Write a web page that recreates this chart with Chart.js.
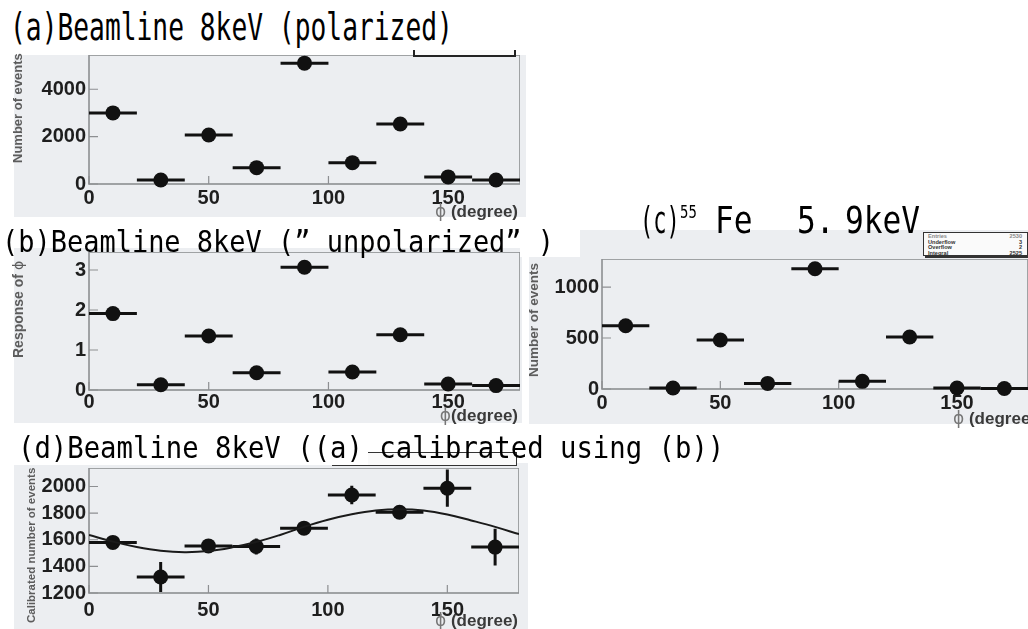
<!DOCTYPE html>
<html lang="ja">
<head>
<meta charset="utf-8">
<title>Azimuthal angle distributions</title>
<script src="https://cdn.jsdelivr.net/npm/chart.js@4.4.1/dist/chart.umd.min.js"></script>
<style>
  html, body { margin:0; padding:0; background:#fff; }
  body { position:relative; width:1028px; height:629px; overflow:hidden; }
  .panel { position:absolute; background:#eceef1; }
  .plot { position:absolute; z-index:1; }
  .axtitle { position:absolute; z-index:2; font-family:"Liberation Sans", Arial, "DejaVu Sans", sans-serif; font-weight:bold; white-space:nowrap; line-height:1; }
  .ylab { transform-origin:0 0; transform:rotate(-90deg); color:#5c5c5c; }
  .xlab { color:#3a3a3a; text-align:right; }
  .xlab .phi { color:#777; font-weight:normal; font-family:"DejaVu Sans", sans-serif; }
  .ylab .phi { font-weight:normal; font-family:"DejaVu Sans", sans-serif; }
  .mask { position:absolute; z-index:3; background:#fff; }
  .title { position:absolute; z-index:4; font-family:"DejaVu Sans Mono", monospace; color:#000; white-space:pre; line-height:1; transform-origin:0 0; }
  .stats { position:absolute; z-index:3; background:#fafafa; border:1px solid #333; box-shadow:2px 2px 0 #333; box-sizing:border-box; }
  .stats .row { display:flex; justify-content:space-between; font:bold 5.6px "Liberation Sans", Arial, sans-serif; line-height:5.6px; color:#333; padding:0 5px 0 4px; }
  .statline { position:absolute; z-index:3; border:2px solid #222; border-top:none; background:#fafafa; box-sizing:border-box; }
</style>
</head>
<body>

<!-- panel backgrounds -->
<div class="panel" style="left:14px;top:55px;width:512px;height:162px"></div>
<div class="panel" style="left:14px;top:246px;width:508px;height:177px"></div>
<div class="panel" style="left:529px;top:230px;width:499px;height:194px"></div>
<div class="panel" style="left:14px;top:463px;width:514px;height:166px"></div>

<!-- plots -->
<canvas id="chartA" class="plot" width="506" height="163" style="left:14px;top:55px"></canvas>
<canvas id="chartB" class="plot" width="506" height="171" style="left:14px;top:252px"></canvas>
<canvas id="chartC" class="plot" width="498" height="165" style="left:530px;top:259px"></canvas>
<canvas id="chartD" class="plot" width="505" height="161" style="left:14px;top:468px"></canvas>

<!-- axis titles -->
<div class="axtitle ylab" style="font-size:13px;left:11px;top:163px">Number of events</div>
<div class="axtitle xlab" style="font-size:17px;right:510px;top:203px"><span class="phi">ϕ</span> (degree)</div>

<div class="axtitle ylab" style="font-size:14px;left:11px;top:358px">Response of <span class="phi">ϕ</span></div>
<div class="axtitle xlab" style="font-size:17px;right:510px;top:407px"><span class="phi">ϕ</span>(degree)</div>

<div class="axtitle ylab" style="font-size:13.5px;left:527px;top:377px">Number of events</div>
<div class="axtitle xlab" style="font-size:17px;right:-8px;top:410px"><span class="phi">ϕ</span> (degree)</div>

<div class="axtitle ylab" style="font-size:11.5px;left:26px;top:623px">Calibrated number of events</div>
<div class="axtitle xlab" style="font-size:17px;right:510px;top:612px"><span class="phi">ϕ</span> (degree)</div>

<!-- statistics boxes -->
<div class="statline" style="left:413px;top:50px;width:103px;height:7px"></div>
<div class="stats" style="left:923px;top:232px;width:105px;height:24px;padding-top:1px">
  <div class="row" style="color:#888"><span>Entries</span><span>2530</span></div>
  <div class="row"><span>Underflow</span><span>3</span></div>
  <div class="row"><span>Overflow</span><span>2</span></div>
  <div class="row"><span>Integral</span><span>2525</span></div>
</div>
<div class="stats" style="left:332px;top:452px;width:185px;height:14px;box-shadow:none;z-index:2"></div>

<!-- title bands -->
<div class="mask" style="left:0;top:0;width:530px;height:50px"></div>
<div class="mask" style="left:0;top:224px;width:522px;height:24px"></div>
<div class="mask" style="left:520px;top:228px;width:60px;height:29px"></div>
<div class="mask" style="left:10px;top:428px;width:358px;height:37px"></div>

<div class="title" style="left:10px;top:9px;font-size:37px;transform:scaleX(0.71)">(a)Beamline 8keV (polarized)</div>
<div class="title" style="left:2px;top:226px;font-size:31px;transform:scaleX(0.87)">(b)Beamline 8keV (” unpolarized” )</div>
<div class="title" style="left:640px;top:201px;font-size:38px;transform:scaleX(0.58)">(c)</div>
<div class="title" style="left:680px;top:204px;font-size:17px;transform:scaleX(0.82)">55</div>
<div class="title" style="left:715px;top:201px;font-size:38px;transform:scaleX(0.82)">Fe</div>
<div class="title" style="left:797px;top:201px;font-size:38px;transform:scaleX(0.82)">5.</div>
<div class="title" style="left:845px;top:201px;font-size:38px;transform:scaleX(0.82)">9keV</div>
<div class="title" style="left:18px;top:432px;font-size:31px;transform:scaleX(0.88)">(d)Beamline 8keV ((a) calibrated using (b))</div>

<script>
// Azimuthal bins (degrees)
const phiBinCenter = [10, 30, 50, 70, 90, 110, 130, 150, 170];
const phiBinLow    = [0, 20, 40, 60, 80, 100, 120, 140, 160];
const phiBinHigh   = [20, 40, 60, 80, 100, 120, 140, 160, 180];
const phiTicks     = [0, 50, 100, 150];

// (a) beamline 8 keV, polarized
const polarizedEvents = [3000, 170, 2070, 690, 5100, 900, 2530, 300, 170];
const polarizedTicks  = [0, 2000, 4000];

// (b) beamline 8 keV, "unpolarized" response
const unpolarizedResponse = [1.91, 0.13, 1.35, 0.43, 3.07, 0.45, 1.38, 0.15, 0.11];
const responseTicks       = [0, 1, 2, 3];

// (c) 55Fe 5.9 keV
const fe55Events = [620, 10, 480, 55, 1180, 75, 510, 10, 5];
const fe55Ticks  = [0, 500, 1000];

// (d) calibrated distribution with its fitted modulation curve
const calibratedEvents = [1580, 1320, 1554, 1549, 1687, 1936, 1807, 1987, 1545];
const calibratedErrors = [35, 112, 45, 60, 40, 70, 35, 140, 138];
const calibratedTicks  = [1200, 1400, 1600, 1800, 2000];
const fitPhi    = [0, 10, 20, 30, 40, 50, 60, 70, 80, 90, 100, 110, 120, 130, 140, 150, 160, 170, 180];
const fitEvents = [1636, 1586, 1546, 1518, 1507, 1515, 1543, 1583, 1636, 1697, 1750, 1791, 1819, 1829, 1820, 1790, 1745, 1697, 1642];

const tickFont  = { family: '"Liberation Sans", Arial, sans-serif', size: 20, weight: 'bold' };
const tickColor = '#1e1e1e';
const markColor = '#111111';

// ROOT-style frame with ticks pointing into the plot
const rootFrame = {
  id: 'rootFrame',
  beforeDatasetsDraw(chart) {
    const { ctx, chartArea: a, scales: { x, y } } = chart;
    ctx.save();
    ctx.strokeStyle = '#8d8f92';
    ctx.lineWidth = 1.6;
    ctx.strokeRect(a.left, a.top, a.right - a.left, a.bottom - a.top);
    ctx.lineWidth = 1.2;
    ctx.beginPath();
    x.ticks.forEach(t => {
      const px = x.getPixelForValue(t.value);
      ctx.moveTo(px, a.bottom); ctx.lineTo(px, a.bottom - 8);
    });
    y.ticks.forEach(t => {
      const py = y.getPixelForValue(t.value);
      ctx.moveTo(a.left, py); ctx.lineTo(a.left + 9, py);
    });
    ctx.stroke();
    ctx.restore();
  }
};

// Bin-width and statistical error bars
const errorBars = {
  id: 'errorBars',
  beforeDatasetsDraw(chart) {
    const { ctx, scales: { x, y } } = chart;
    chart.data.datasets.forEach(ds => {
      if (!ds.xLow) return;
      ctx.save();
      ctx.strokeStyle = markColor;
      ctx.lineWidth = 3;
      ctx.lineCap = 'butt';
      ds.data.forEach((p, j) => {
        const py = y.getPixelForValue(p.y);
        ctx.beginPath();
        ctx.moveTo(x.getPixelForValue(ds.xLow[j]), py);
        ctx.lineTo(x.getPixelForValue(ds.xHigh[j]), py);
        if (ds.yErr) {
          const px = x.getPixelForValue(p.x);
          ctx.moveTo(px, y.getPixelForValue(p.y - ds.yErr[j]));
          ctx.lineTo(px, y.getPixelForValue(p.y + ds.yErr[j]));
        }
        ctx.stroke();
      });
      ctx.restore();
    });
  }
};

function histDataset(values, yErr) {
  return {
    data: phiBinCenter.map((phi, i) => ({ x: phi, y: values[i] })),
    xLow: phiBinLow,
    xHigh: phiBinHigh,
    yErr: yErr || null,
    pointRadius: 7.5,
    pointHoverRadius: 7.5,
    pointBackgroundColor: markColor,
    pointBorderWidth: 0,
    showLine: false,
    clip: false,
    order: 1
  };
}

function makePanel(id, o) {
  return new Chart(document.getElementById(id), {
    type: 'scatter',
    data: { datasets: o.datasets },
    options: {
      responsive: false,
      animation: false,
      devicePixelRatio: 1,
      layout: { padding: 0, autoPadding: false },
      plugins: { legend: { display: false }, tooltip: { enabled: false } },
      scales: {
        x: {
          type: 'linear', min: 0, max: 180,
          grid: { display: false, drawTicks: false }, border: { display: false },
          afterBuildTicks: s => { s.ticks = phiTicks.map(v => ({ value: v })); },
          ticks: { padding: o.xPad, font: tickFont, color: tickColor, maxRotation: 0, autoSkip: false, callback: v => String(v) },
          afterFit: s => { s.height = o.xHeight; s.paddingLeft = 0; s.paddingRight = 0; }
        },
        y: {
          type: 'linear', min: o.yMin, max: o.yMax,
          grid: { display: false, drawTicks: false }, border: { display: false },
          afterBuildTicks: s => { s.ticks = o.yTicks.map(v => ({ value: v })); },
          ticks: { padding: 3, font: tickFont, color: tickColor, autoSkip: false, callback: v => String(v) },
          afterFit: s => { s.width = o.yWidth; s.paddingTop = 0; s.paddingBottom = 0; }
        }
      }
    },
    plugins: [rootFrame, errorBars]
  });
}

makePanel('chartA', {
  datasets: [histDataset(polarizedEvents)],
  yMin: 0, yMax: 5445, yTicks: polarizedTicks, yWidth: 75, xHeight: 34, xPad: 2
});

makePanel('chartB', {
  datasets: [histDataset(unpolarizedResponse)],
  yMin: 0, yMax: 3.45, yTicks: responseTicks, yWidth: 75, xHeight: 33, xPad: 0
});

makePanel('chartC', {
  datasets: [histDataset(fe55Events)],
  yMin: 0, yMax: 1275, yTicks: fe55Ticks, yWidth: 72, xHeight: 35, xPad: 2
});

makePanel('chartD', {
  datasets: [
    histDataset(calibratedEvents, calibratedErrors),
    {
      data: fitPhi.map((phi, i) => ({ x: phi, y: fitEvents[i] })),
      showLine: true,
      tension: 0.4,
      borderColor: '#1a1a1a',
      borderWidth: 2,
      pointRadius: 0,
      pointHoverRadius: 0,
      fill: false,
      order: 0
    }
  ],
  yMin: 1200, yMax: 2139, yTicks: calibratedTicks, yWidth: 75, xHeight: 36, xPad: 5
});
</script>
</body>
</html>
